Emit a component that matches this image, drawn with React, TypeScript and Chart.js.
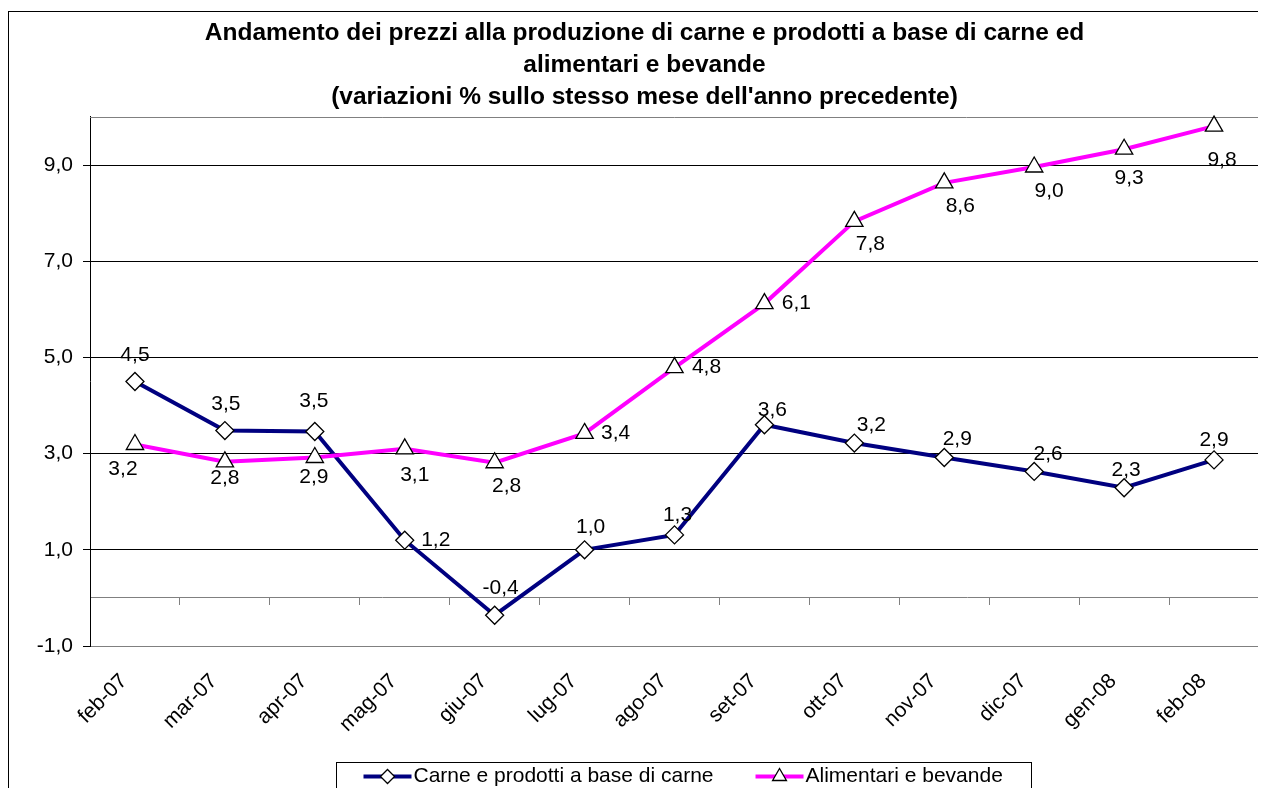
import React, { useEffect, useRef } from 'react';
import { Chart, registerables } from 'chart.js';

Chart.register(...registerables);

const FONT = "Arial, 'Liberation Sans', sans-serif";

const titleLines = [
  'Andamento dei prezzi alla produzione di carne e prodotti a base di carne ed',
  'alimentari e bevande',
  "(variazioni % sullo stesso mese dell'anno precedente)",
];

const categories = [
  'feb-07', 'mar-07', 'apr-07', 'mag-07', 'giu-07', 'lug-07', 'ago-07',
  'set-07', 'ott-07', 'nov-07', 'dic-07', 'gen-08', 'feb-08',
];

const seriesNames = ['Carne e prodotti a base di carne', 'Alimentari e bevande'];

const carneValues = [4.5, 3.48, 3.46, 1.2, -0.36, 1.0, 1.31, 3.6, 3.22, 2.92, 2.63, 2.29, 2.87];
const alimentariValues = [3.19, 2.83, 2.92, 3.1, 2.81, 3.42, 4.79, 6.12, 7.83, 8.63, 8.96, 9.33, 9.81];

const yTickValues = [-1, 1, 3, 5, 7, 9];

// data-label placement relative to each point (dx, dy)
const carneLabelOffsets = [
  [0, -26], [1, -26], [-1, -30], [31, 0], [6, -27], [6, -23], [3, -20],
  [8, -15], [17, -18], [13, -18], [14, -17], [2, -18], [0, -20],
];
const alimentariLabelOffsets = [
  [-12, 25], [0, 16], [-1, 20], [10, 26], [12, 23], [31, 0], [32, 0],
  [32, 0], [16, 23], [16, 23], [15, 24], [5, 29], [8, 34],
];
const labelOffsets = [carneLabelOffsets, alimentariLabelOffsets];

const CARNE_COLOR = '#000080';
const ALIM_COLOR = '#FF00FF';

const fmt = (v: number) => v.toFixed(1).replace('.', ',');

function drawMarker(ctx: CanvasRenderingContext2D, kind: string, x: number, y: number, r: number) {
  ctx.beginPath();
  if (kind === 'diamond') {
    ctx.moveTo(x - r, y);
    ctx.lineTo(x, y - r);
    ctx.lineTo(x + r, y);
    ctx.lineTo(x, y + r);
  } else {
    const s = Math.sin(Math.PI / 3) * r;
    ctx.moveTo(x, y - r);
    ctx.lineTo(x + s, y + r / 2);
    ctx.lineTo(x - s, y + r / 2);
  }
  ctx.closePath();
  ctx.fillStyle = '#fff';
  ctx.fill();
  ctx.strokeStyle = '#000';
  ctx.lineWidth = 1.3;
  ctx.stroke();
}

const plotFrame = {
  id: 'plotFrame',
  beforeDatasetsDraw(chart: any) {
    const { ctx, chartArea } = chart;
    const { left, right, top, bottom } = chartArea;
    ctx.save();
    ctx.strokeStyle = '#808080';
    ctx.lineWidth = 1;
    ctx.beginPath();
    ctx.moveTo(left, Math.round(top) + 0.5);
    ctx.lineTo(Math.round(right) - 0.5, Math.round(top) + 0.5);
    ctx.lineTo(Math.round(right) - 0.5, Math.round(bottom) - 0.5);
    ctx.stroke();
    ctx.restore();
  },
};

const dataLabels = {
  id: 'dataLabels',
  afterDatasetsDraw(chart: any) {
    const { ctx } = chart;
    ctx.save();
    ctx.font = `21px ${FONT}`;
    ctx.fillStyle = '#000';
    ctx.textAlign = 'center';
    ctx.textBaseline = 'middle';
    chart.data.datasets.forEach((ds: any, di: number) => {
      const meta = chart.getDatasetMeta(di);
      meta.data.forEach((el: any, i: number) => {
        const off = labelOffsets[di][i];
        ctx.fillText(fmt(ds.data[i]), el.x + off[0], el.y + off[1]);
      });
    });
    ctx.restore();
  },
};

const legendBox = {
  id: 'legendBox',
  afterDraw(chart: any) {
    const { ctx, chartArea } = chart;
    ctx.save();
    ctx.font = `21px ${FONT}`;
    const w1 = ctx.measureText(seriesNames[0]).width;
    const w2 = ctx.measureText(seriesNames[1]).width;
    const sample = 48;
    const gap = 2;
    const itemGap = 42;
    const padL = 27;
    const padR = 29;
    const boxW = padL + sample + gap + w1 + itemGap + sample + gap + w2 + padR;
    const centre = (chartArea.left + chartArea.right) / 2 + 9;
    const boxLeft = Math.round(centre - boxW / 2) + 0.5;
    const boxTop = Math.round(chartArea.bottom + 116) + 0.5;
    ctx.strokeStyle = '#000';
    ctx.lineWidth = 1;
    ctx.strokeRect(boxLeft, boxTop, Math.round(boxW), chart.height);
    const cy = boxTop + 14;
    const items = [
      { color: CARNE_COLOR, kind: 'diamond', r: 7, w: w1, text: seriesNames[0] },
      { color: ALIM_COLOR, kind: 'triangle', r: 8, w: w2, text: seriesNames[1] },
    ];
    let x = boxLeft + padL;
    items.forEach((it) => {
      ctx.strokeStyle = it.color;
      ctx.lineWidth = 4;
      ctx.beginPath();
      ctx.moveTo(x, cy);
      ctx.lineTo(x + sample, cy);
      ctx.stroke();
      drawMarker(ctx, it.kind, x + sample / 2, cy, it.r);
      ctx.fillStyle = '#000';
      ctx.textAlign = 'left';
      ctx.textBaseline = 'middle';
      ctx.fillText(it.text, x + sample + gap, cy);
      x += sample + gap + it.w + itemGap;
    });
    ctx.restore();
  },
};

export default function App() {
  const canvasRef = useRef<HTMLCanvasElement | null>(null);

  useEffect(() => {
    document.body.style.overflow = 'hidden';
    const canvas = canvasRef.current;
    if (!canvas) return;
    const chart = new Chart(canvas, {
      type: 'line',
      data: {
        labels: categories,
        datasets: [
          {
            label: seriesNames[0],
            data: carneValues,
            borderColor: CARNE_COLOR,
            backgroundColor: CARNE_COLOR,
            borderWidth: 4,
            pointStyle: 'rectRot',
            pointRadius: 9,
            pointBackgroundColor: '#ffffff',
            pointBorderColor: '#000000',
            pointBorderWidth: 1.3,
            tension: 0,
            order: 1,
            clip: false,
          },
          {
            label: seriesNames[1],
            data: alimentariValues,
            borderColor: ALIM_COLOR,
            backgroundColor: ALIM_COLOR,
            borderWidth: 4,
            pointStyle: 'triangle',
            pointRadius: 10,
            pointBackgroundColor: '#ffffff',
            pointBorderColor: '#000000',
            pointBorderWidth: 1.3,
            tension: 0,
            order: 0,
            clip: false,
          },
        ],
      },
      options: {
        responsive: false,
        animation: false,
        devicePixelRatio: 1,
        layout: { padding: { left: 21, right: 24, top: 0, bottom: 56 } },
        plugins: {
          legend: { display: false },
          tooltip: { enabled: false },
          title: {
            display: true,
            text: titleLines,
            color: '#000',
            font: { family: FONT, size: 24.5, weight: 'bold', lineHeight: 32 / 24.5 },
            padding: { top: 5, bottom: 4 },
          },
        },
        scales: {
          x: {
            type: 'category',
            position: 'bottom',
            offset: true,
            grid: { display: false, drawTicks: false },
            border: { display: false },
            ticks: {
              color: '#000',
              font: { family: FONT, size: 21 },
              maxRotation: 45,
              minRotation: 45,
              autoSkip: false,
              padding: 23,
              labelOffset: -11,
            },
            afterFit: (axis: any) => {
              axis.height = 100;
            },
          },
          x2: {
            type: 'category',
            position: { y: 0 },
            offset: true,
            grid: {
              drawOnChartArea: false,
              drawTicks: true,
              tickLength: 7,
              color: '#808080',
              offset: true,
            },
            border: { display: true, color: '#808080', width: 1 },
            ticks: { display: false },
          },
          y: {
            type: 'linear',
            min: -1,
            max: 10,
            afterBuildTicks: (axis: any) => {
              axis.ticks = yTickValues.map((v) => ({ value: v }));
            },
            afterFit: (axis: any) => {
              axis.width = 60;
            },
            grid: {
              color: (c: any) => (c.tick && c.tick.value === -1 ? '#808080' : '#000000'),
              lineWidth: 1,
              drawTicks: true,
              tickLength: 7,
              tickColor: '#000000',
            },
            border: { display: true, color: '#000000', width: 1 },
            ticks: {
              color: '#000',
              font: { family: FONT, size: 21 },
              padding: 10,
              callback: (v: any) => fmt(Number(v)),
            },
          },
        },
      } as any,
      plugins: [plotFrame, dataLabels, legendBox],
    });
    return () => {
      chart.destroy();
    };
  }, []);

  return (
    <div
      style={{
        marginTop: 3,
        width: 1276,
        height: 792,
        border: '1px solid #000',
        boxSizing: 'border-box',
      }}
    >
      <canvas ref={canvasRef} width={1274} height={790} style={{ display: 'block' }} />
    </div>
  );
}
